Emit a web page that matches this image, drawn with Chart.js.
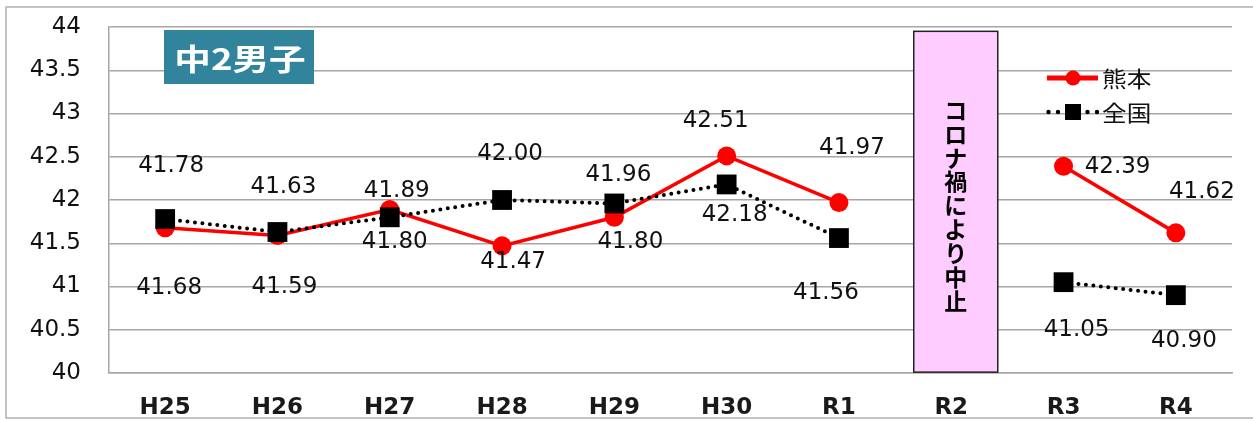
<!DOCTYPE html>
<html lang="ja">
<head>
<meta charset="utf-8">
<title>中2男子 推移</title>
<script src="https://cdn.jsdelivr.net/npm/chart.js@4/dist/chart.umd.min.js"></script>
<style>
  html, body { margin: 0; padding: 0; background: #fff; }
  #wrap { width: 1253px; height: 421px; }
</style>
</head>
<body>
<div id="wrap"><canvas id="chart" width="1253" height="421"></canvas></div>
<script>
// Survey years (R2 was cancelled)
const categories = ['H25', 'H26', 'H27', 'H28', 'H29', 'H30', 'R1', 'R2', 'R3', 'R4'];
// Average values, 熊本 and 全国
const kumamoto = [41.68, 41.59, 41.89, 41.47, 41.80, 42.51, 41.97, null, 42.39, 41.62];
const national = [41.78, 41.63, 41.80, 42.00, 41.96, 42.18, 41.56, null, 41.05, 40.90];
// Value axis range
const yMin = 40;
const yMax = 44;
const yStep = 0.5;

const chartTitle = '中2男子';
const cancelNote = 'コロナ禍により中止';

// Value-label placement around each point, [dx, dy] in px
const kumamotoLabelShift = [[4, 60], [7, 52], [7, -18], [11, 16], [16, 25], [-11, -35], [13, -55], null, [54, 1], [26, -41]];
const nationalLabelShift = [[6, -53], [6, -45], [5, 25], [8, -46], [4, -28], [8, 31], [-13, 55], null, [13, 48], [8, 46]];

const RED = '#FF0000';
const BLACK = '#000000';
const GRID = '#A6A6A6';

const labelFont = '23px "DejaVu Sans", sans-serif';

// White page, outer frame, headline badge and the R2 notice box
const decorPlugin = {
  id: 'decor',
  beforeDraw(chart) {
    const ctx = chart.ctx;
    ctx.save();
    ctx.fillStyle = '#ffffff';
    ctx.fillRect(0, 0, chart.width, chart.height);
    ctx.strokeStyle = '#B0B0B0';
    ctx.lineWidth = 1.5;
    ctx.strokeRect(6, 7, chart.width + 10, 411);
    ctx.restore();
  },
  beforeDatasetsDraw(chart) {
    const ctx = chart.ctx;
    const x = chart.scales.x;
    const y = chart.scales.y;
    ctx.save();
    // R2 notice box
    const cx = x.getPixelForValue(7) + 4.5;
    const left = cx - 42, right = cx + 42;
    const top = y.getPixelForValue(43.95);
    const bottom = y.getPixelForValue(40.01);
    ctx.fillStyle = '#FFCCFF';
    ctx.fillRect(left, top, right - left, bottom - top);
    ctx.strokeStyle = '#222';
    ctx.lineWidth = 1.5;
    ctx.strokeRect(left, top, right - left, bottom - top);
    ctx.fillStyle = '#000';
    ctx.font = 'bold 23px "Noto Sans CJK JP", sans-serif';
    ctx.textAlign = 'center';
    ctx.textBaseline = 'middle';
    const chars = Array.from(cancelNote);
    const step = 23.9;
    chars.forEach((ch, i) => {
      ctx.fillText(ch, cx, 110 + i * step);
    });

    // Headline badge
    ctx.fillStyle = '#31849B';
    ctx.fillRect(164, 30, 150, 54);
    ctx.fillStyle = '#ffffff';
    ctx.font = 'bold 30px "Noto Sans CJK JP", sans-serif';
    ctx.translate(240, 58);
    ctx.scale(1.22, 1);
    ctx.fillText(chartTitle, 0, 1);
    ctx.restore();
  }
};

// Value labels next to each marker
const valueLabelPlugin = {
  id: 'valueLabels',
  afterDatasetsDraw(chart) {
    const ctx = chart.ctx;
    ctx.save();
    ctx.font = labelFont;
    ctx.fillStyle = '#111';
    ctx.textAlign = 'center';
    ctx.textBaseline = 'middle';
    const shifts = [kumamotoLabelShift, nationalLabelShift];
    chart.data.datasets.forEach((ds, di) => {
      const meta = chart.getDatasetMeta(di);
      meta.data.forEach((pt, i) => {
        const v = ds.data[i];
        if (v === null || v === undefined) return;
        const s = shifts[di][i] || [0, -30];
        ctx.fillText(v.toFixed(2), pt.x + s[0], pt.y + s[1]);
      });
    });
    ctx.restore();
  }
};

// Legend drawn inside the plot area
const legendPlugin = {
  id: 'insideLegend',
  afterDatasetsDraw(chart) {
    const ctx = chart.ctx;
    const dsK = chart.data.datasets[0];
    const dsN = chart.data.datasets[1];
    ctx.save();
    // 熊本
    let yy = 78;
    ctx.strokeStyle = dsK.borderColor;
    ctx.lineWidth = 5;
    ctx.lineCap = 'butt';
    ctx.beginPath();
    ctx.moveTo(1047, yy);
    ctx.lineTo(1098, yy);
    ctx.stroke();
    ctx.fillStyle = dsK.pointBackgroundColor;
    ctx.beginPath();
    ctx.arc(1073, yy, 7.5, 0, Math.PI * 2);
    ctx.fill();
    // 全国
    yy = 112;
    ctx.fillStyle = dsN.borderColor;
    [1048.5, 1058, 1087.5, 1097].forEach(px => {
      ctx.beginPath();
      ctx.arc(px, yy, 2.2, 0, Math.PI * 2);
      ctx.fill();
    });
    ctx.fillRect(1065, yy - 8, 16, 16);
    // texts
    ctx.fillStyle = '#111';
    ctx.font = '22px "Noto Sans CJK JP", sans-serif';
    ctx.textAlign = 'left';
    ctx.textBaseline = 'middle';
    ctx.save();
    ctx.translate(1102, 79);
    ctx.scale(1.12, 1);
    ctx.fillText(dsK.label, 0, 0);
    ctx.restore();
    ctx.save();
    ctx.translate(1102, 113);
    ctx.scale(1.12, 1);
    ctx.fillText(dsN.label, 0, 0);
    ctx.restore();
    ctx.restore();
  }
};

Chart.defaults.font.family = '"DejaVu Sans", sans-serif';
Chart.defaults.color = '#111';

new Chart(document.getElementById('chart'), {
  type: 'line',
  data: {
    labels: categories,
    datasets: [
      {
        label: '熊本',
        data: kumamoto,
        order: 1,
        borderColor: RED,
        backgroundColor: RED,
        borderWidth: 3.5,
        pointStyle: 'circle',
        pointRadius: 9.5,
        pointBorderWidth: 0,
        pointBackgroundColor: RED,
        pointBorderColor: RED,
        spanGaps: false,
        tension: 0
      },
      {
        label: '全国',
        data: national,
        order: 0,
        borderColor: BLACK,
        backgroundColor: BLACK,
        borderWidth: 4,
        borderDash: [0, 7.5],
        borderCapStyle: 'round',
        pointStyle: 'rect',
        pointRadius: 14,
        pointBorderWidth: 0,
        pointBackgroundColor: BLACK,
        pointBorderColor: BLACK,
        spanGaps: false,
        tension: 0
      }
    ]
  },
  options: {
    responsive: false,
    animation: false,
    events: [],
    layout: { padding: { top: 27, right: 21, left: 0, bottom: 0 } },
    plugins: {
      legend: { display: false },
      tooltip: { enabled: false },
      title: { display: false }
    },
    scales: {
      x: {
        type: 'category',
        offset: true,
        grid: { display: false, drawTicks: false },
        border: { display: true, color: GRID, width: 1.5 },
        ticks: {
          padding: 21,
          font: { size: 23, weight: 'bold', family: '"DejaVu Sans", sans-serif' },
          color: '#1a1a1a',
          maxRotation: 0
        },
        afterFit(scale) {
          scale.height = 48;
          scale.paddingLeft = 0;
          scale.paddingRight = 0;
        }
      },
      y: {
        min: yMin,
        max: yMax,
        grid: { color: GRID, lineWidth: 1.5, drawTicks: false },
        border: { display: true, color: GRID, width: 1.5 },
        ticks: {
          stepSize: yStep,
          padding: 28,
          font: { size: 23 },
          color: '#111',
          callback: (v) => String(Number(Number(v).toFixed(1)))
        },
        afterFit(scale) {
          scale.width = 109;
          scale.paddingTop = 0;
          scale.paddingBottom = 0;
        }
      }
    }
  },
  plugins: [decorPlugin, valueLabelPlugin, legendPlugin]
});
</script>
</body>
</html>
